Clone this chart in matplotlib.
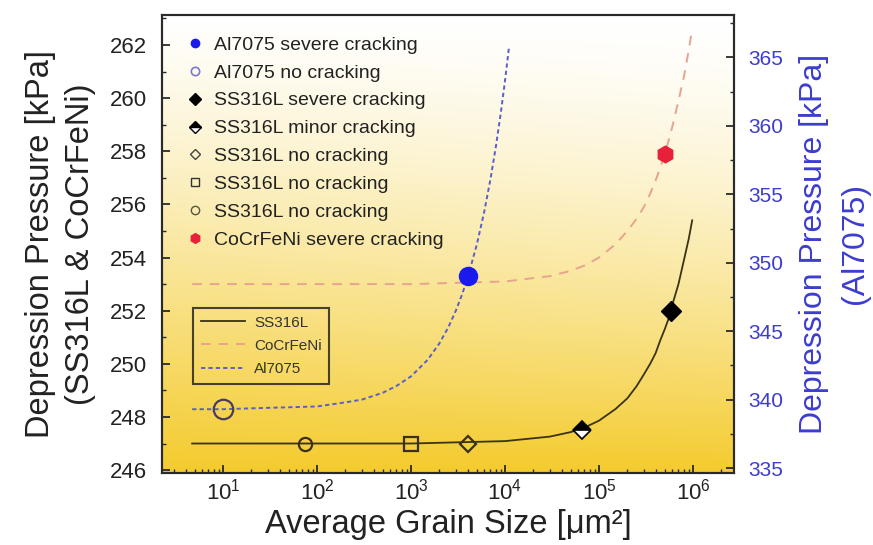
import numpy as np
import matplotlib
matplotlib.use('Agg')
import matplotlib.pyplot as plt
from matplotlib.lines import Line2D
from matplotlib.ticker import LogLocator, MultipleLocator, NullFormatter

plt.rcParams['font.family'] = ['Liberation Sans', 'DejaVu Sans']
plt.rcParams['mathtext.fontset'] = 'custom'
plt.rcParams['mathtext.rm'] = 'Liberation Sans'
plt.rcParams['mathtext.default'] = 'regular'

# ---------------- data ----------------
ss_x = [4.7, 10, 100, 1e3, 1e4, 3e4, 5e4, 7e4, 1e5, 1.5e5, 2e5, 2.5e5, 3e5, 3.5e5, 4e5, 4.5e5,
        5e5, 5.5e5, 6e5, 7e5, 8e5, 9e5, 9.8e5]
ss_y = [247.0, 247.0, 247.0, 247.0, 247.09, 247.26, 247.43, 247.6, 247.86, 248.3, 248.7, 249.15,
        249.6, 250.0, 250.4, 250.9, 251.3, 251.7, 252.2, 253.0, 253.9, 254.7, 255.4]

co_x = [4.7, 10, 100, 1e3, 1e4, 3e4, 5e4, 7e4, 1e5, 1.5e5, 2e5, 2.5e5, 3e5, 3.5e5, 4e5, 4.5e5,
        5e5, 5.5e5, 6e5, 7e5, 8e5, 9e5, 9.8e5]
co_y = [253.0, 253.0, 253.0, 253.0, 253.1, 253.3, 253.5, 253.7, 254.0, 254.5, 255.0, 255.45,
        255.9, 256.4, 256.9, 257.4, 257.9, 258.4, 258.9, 259.9, 260.8, 261.8, 262.6]

al_x = [4.7, 10, 30, 100, 200, 300, 500, 700, 1000, 1500, 2000, 2500, 3000, 3500, 4000, 5000,
        6000, 7000, 8000, 9000, 1e4, 1.1e4]
al_y = [339.3, 339.3, 339.4, 339.5, 339.8, 340.0, 340.5, 341.0, 341.7, 342.9, 344.1, 345.3,
        346.5, 347.7, 348.9, 351.3, 353.7, 356.1, 358.5, 360.9, 363.3, 365.7]

# markers
al_severe = (4000, 349.0)
al_none = (10, 339.3)
ss_severe = (5.8e5, 252.0)
ss_minor = (6.6e4, 247.5)
ss_none_diamond = (4000, 247.0)
ss_none_square = (1000, 247.0)
ss_none_circle = (75, 247.0)
co_severe = (5.0e5, 257.9)

marker_labels = ['Al7075 severe cracking', 'Al7075 no cracking', 'SS316L severe cracking',
                 'SS316L minor cracking', 'SS316L no cracking', 'SS316L no cracking',
                 'SS316L no cracking', 'CoCrFeNi severe cracking']
line_labels = ['SS316L', 'CoCrFeNi', 'Al7075']

xtick_vals = [1e1, 1e2, 1e3, 1e4, 1e5, 1e6]
xtick_labels = [r'$10^{1}$', r'$10^{2}$', r'$10^{3}$', r'$10^{4}$', r'$10^{5}$', r'$10^{6}$']
left_ticks = list(range(246, 263, 2))
right_ticks = list(range(335, 366, 5))

# ---------------- styles ----------------
c_ss = '#3a3314'
c_co = '#e8a390'
c_al = '#5a5ec8'
c_blue = '#1a1aee'
c_red = '#e8203a'
c_edge = '#3a3020'
c_spine = '#2a2a2a'
c_right = '#3c3cd0'

fig = plt.figure(figsize=(8.73, 5.45), dpi=100)
ax = fig.add_axes([162 / 873, 72 / 545, 572 / 873, 458 / 545])
ax.set_xscale('log')

# background gradient
h, w = 300, 300
yy = np.linspace(0, 1, h)[:, None]
xx = np.linspace(0, 1, w)[None, :]
t = np.clip(yy ** 1.5 + 0.35 * (1 - xx) * yy * (1 - yy), 0, 1)
top = np.array([1.0, 1.0, 1.0])
bot = np.array([244, 203, 45]) / 255.0
img = top * (1 - t[..., None]) + bot * t[..., None]
ax.imshow(img, extent=[0, 1, 0, 1], transform=ax.transAxes, aspect='auto',
          zorder=0, interpolation='bicubic')

ax2 = ax.twinx()

# curves
ax.plot(ss_x, ss_y, color=c_ss, lw=1.3, zorder=3)
ax.plot(co_x, co_y, color=c_co, lw=1.4, dashes=(5, 4), zorder=3)
ax2.plot(al_x, al_y, color=c_al, lw=1.4, dashes=(2.2, 1.6), zorder=3)

# markers
ax.plot(*ss_none_circle, ls='none', marker='o', ms=9.5, mfc='none', mec=c_edge, mew=1.6, zorder=5)
ax.plot(*ss_none_square, ls='none', marker='s', ms=9.5, mfc='none', mec=c_edge, mew=1.6, zorder=5)
ax.plot(*ss_none_diamond, ls='none', marker='D', ms=8.5, mfc='none', mec=c_edge, mew=1.6, zorder=5)
ax.plot(*ss_minor, ls='none', marker='D', ms=9.5, fillstyle='top', mfc='black',
        mfcalt='white', mec='black', mew=1.2, zorder=5)
ax.plot(*ss_severe, ls='none', marker='D', ms=10.5, mfc='black', mec='black', zorder=5)
ax.plot(*co_severe, ls='none', marker='h', ms=12, mfc=c_red, mec=c_red, zorder=5)
ax2.plot(*al_none, ls='none', marker='o', ms=14, mfc='none', mec='#4a3a60', mew=1.6, zorder=5)
ax2.plot(*al_severe, ls='none', marker='o', ms=13, mfc=c_blue, mec=c_blue, zorder=5)

# axes limits & ticks
ax.set_xlim(10 ** 0.351, 10 ** 6.436)
ax.set_ylim(245.89, 263.13)
ax2.set_ylim(334.64, 368.1)

ax.set_xticks(xtick_vals, xtick_labels)
ax.xaxis.set_minor_locator(LogLocator(base=10, subs=np.arange(2, 10), numticks=30))
ax.xaxis.set_minor_formatter(NullFormatter())
ax.set_yticks(left_ticks)
ax.yaxis.set_minor_locator(MultipleLocator(1))
ax2.set_yticks(right_ticks)
ax2.yaxis.set_minor_locator(MultipleLocator(2.5))

ax.tick_params(axis='x', which='major', direction='in', length=6, width=1.3, color=c_spine,
               labelsize=16, pad=4, top=False, labelcolor='#222222')
ax.tick_params(axis='x', which='minor', direction='in', length=3, width=1.0, color=c_spine, top=False)
ax.tick_params(axis='y', which='major', direction='in', length=6, width=1.3, color=c_spine,
               labelsize=16, pad=11, right=False, labelcolor='#222222')
ax.tick_params(axis='y', which='minor', direction='in', length=3, width=1.0, color=c_spine, right=False)
ax2.tick_params(axis='y', which='major', direction='in', length=6, width=1.3, color=c_spine,
                labelsize=15, pad=10, labelcolor=c_right)
ax2.tick_params(axis='y', which='minor', direction='in', length=3, width=1.0, color=c_spine)

for a in (ax, ax2):
    for s in a.spines.values():
        s.set_color(c_spine)
        s.set_linewidth(1.5)

ax.set_xlabel('Average Grain Size [μm²]', fontsize=23.5, color='#222222', va='top')
ax.xaxis.set_label_coords(0.5, -0.079)
ax.set_ylabel('Depression Pressure [kPa]\n(SS316L & CoCrFeNi)', fontsize=23.5,
              color='#222222', linespacing=1.38)
ax.yaxis.set_label_coords(-0.115, 0.5)
ax2.set_ylabel('Depression Pressure [kPa]\n(Al7075)', fontsize=23, color=c_right,
               linespacing=1.5, rotation=90)
ax2.yaxis.set_label_coords(1.113, 0.5)

# legend of markers
mh = [
    Line2D([], [], ls='none', marker='o', ms=6, mfc=c_blue, mec=c_blue),
    Line2D([], [], ls='none', marker='o', ms=6, mfc='none', mec='#7a78d0', mew=1.2),
    Line2D([], [], ls='none', marker='D', ms=6, mfc='black', mec='black'),
    Line2D([], [], ls='none', marker='D', ms=6, fillstyle='top', mfc='black', mfcalt='white',
           mec='black', mew=1.0),
    Line2D([], [], ls='none', marker='D', ms=5.5, mfc='none', mec='#444444', mew=1.0),
    Line2D([], [], ls='none', marker='s', ms=6, mfc='none', mec='#333333', mew=1.0),
    Line2D([], [], ls='none', marker='o', ms=6, mfc='none', mec='#555544', mew=1.0),
    Line2D([], [], ls='none', marker='h', ms=7, mfc=c_red, mec=c_red),
]
leg1 = ax2.legend(mh, marker_labels, loc='upper left', bbox_to_anchor=(187 / 873, 1 - 36 / 545),
                  bbox_transform=fig.transFigure, frameon=False, fontsize=14,
                  handlelength=0.85, handletextpad=0.55, labelspacing=0.53, borderpad=0,
                  borderaxespad=0)
for txt in leg1.get_texts():
    txt.set_color('#222222')
ax2.add_artist(leg1)

lh = [
    Line2D([], [], color=c_ss, lw=1.3),
    Line2D([], [], color=c_co, lw=1.4, dashes=(5, 4)),
    Line2D([], [], color=c_al, lw=1.4, dashes=(2.2, 1.6)),
]
leg2 = ax2.legend(lh, line_labels, loc='upper left', bbox_to_anchor=(193 / 873, 1 - 308 / 545),
                  bbox_transform=fig.transFigure, frameon=True, fancybox=False, fontsize=11,
                  handlelength=2.9, handletextpad=0.6, labelspacing=0.6, borderpad=0.5,
                  borderaxespad=0)
leg2.get_frame().set_edgecolor('#1a1a1a')
leg2.get_frame().set_linewidth(1.5)
leg2.get_frame().set_facecolor('none')
for txt in leg2.get_texts():
    txt.set_color('#333333')

fig.savefig('out.png', dpi=100, facecolor='white')
